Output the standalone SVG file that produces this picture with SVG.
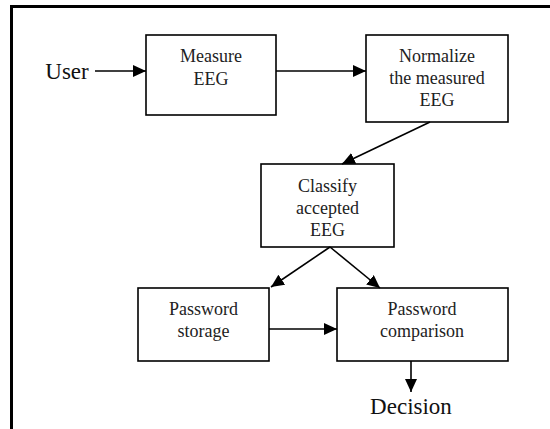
<svg xmlns="http://www.w3.org/2000/svg" width="550" height="429" viewBox="0 0 550 429">
<style>
.box{fill:#fff;stroke:#000;stroke-width:1.6}
.t{font-family:'Liberation Serif','Times New Roman','DejaVu Serif',serif;font-size:18px;fill:#222;text-anchor:middle}
.big{font-family:'Liberation Serif','Times New Roman','DejaVu Serif',serif;font-size:23px;fill:#111;text-anchor:middle}
.c{stroke:#000;stroke-width:1.6;fill:none;marker-end:url(#ah)}
</style>
<defs>
<marker id="ah" markerUnits="userSpaceOnUse" markerWidth="14" markerHeight="12" refX="13" refY="6" orient="auto">
<path d="M0,0 L13,6 L0,12 Z" fill="#000"/>
</marker>
</defs>
<rect width="550" height="429" fill="#fff"/>
<g id="frame">
<line x1="10" y1="6.5" x2="550" y2="6.5" stroke="#000" stroke-width="3"/>
<line x1="11.5" y1="5" x2="11.5" y2="429" stroke="#000" stroke-width="3"/>
</g>
<g id="user"><text class="big" x="67" y="79" font-family="Liberation Serif, serif">User</text></g>
<g id="measure">
<rect class="box" x="146" y="35" width="130" height="80"/>
<text class="t" x="211" y="62">Measure</text>
<text class="t" x="211" y="85">EEG</text>
</g>
<g id="normalize">
<rect class="box" x="366" y="35" width="142" height="87"/>
<text class="t" x="437" y="62">Normalize</text>
<text class="t" x="437" y="84">the measured</text>
<text class="t" x="437" y="106">EEG</text>
</g>
<g id="classify">
<rect class="box" x="261" y="164" width="133" height="83"/>
<text class="t" x="327.5" y="192">Classify</text>
<text class="t" x="327.5" y="214">accepted</text>
<text class="t" x="327.5" y="236">EEG</text>
</g>
<g id="storage">
<rect class="box" x="138" y="288" width="131" height="73"/>
<text class="t" x="203.5" y="315">Password</text>
<text class="t" x="203.5" y="337">storage</text>
</g>
<g id="comparison">
<rect class="box" x="337" y="288" width="171" height="73"/>
<text class="t" x="422" y="315">Password</text>
<text class="t" x="422" y="337">comparison</text>
</g>
<g id="decision"><text class="big" x="411" y="414">Decision</text></g>
<g id="connectors">
<line class="c" x1="95" y1="71" x2="146" y2="71"/>
<line class="c" x1="276" y1="71" x2="366" y2="71"/>
<line class="c" x1="430" y1="122" x2="342" y2="164"/>
<line class="c" x1="330" y1="247" x2="271" y2="287"/>
<line class="c" x1="330" y1="247" x2="380" y2="288"/>
<line class="c" x1="269" y1="329" x2="337" y2="329"/>
<line class="c" x1="411" y1="361" x2="411" y2="392"/>
</g>
</svg>
